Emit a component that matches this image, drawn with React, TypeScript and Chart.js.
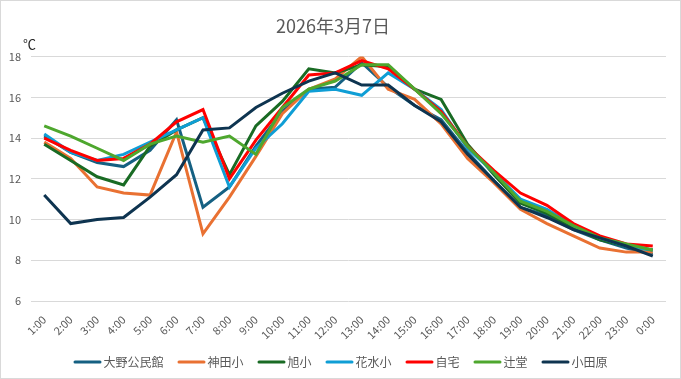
import React, { useEffect, useRef } from "react";
import { Chart, registerables } from "chart.js";

Chart.register(...registerables);

const title = "2026年3月7日";
const unitLabel = "℃";
const hours = [
  "1:00", "2:00", "3:00", "4:00", "5:00", "6:00", "7:00", "8:00", "9:00", "10:00", "11:00", "12:00",
  "13:00", "14:00", "15:00", "16:00", "17:00", "18:00", "19:00", "20:00", "21:00", "22:00", "23:00", "0:00",
];
const seriesNames = ["大野公民館", "神田小", "旭小", "花水小", "自宅", "辻堂", "小田原"];
const seriesColors = ["#156082", "#E97132", "#196B24", "#0F9ED5", "#FF0000", "#4EA72E", "#0E3450"];

const ohno = [14.1, 13.3, 12.8, 12.6, 13.4, 14.9, 10.6, 11.6, 13.6, 15.3, 16.4, 16.5, 17.7, 16.5, 15.6, 14.9, 13.3, 11.9, 10.6, 10.2, 9.5, 9.0, 8.6, 8.3];
const kanda = [13.8, 13.0, 11.6, 11.3, 11.2, 14.3, 9.3, 11.1, 13.1, 15.2, 16.4, 16.9, 18.0, 16.4, 15.9, 14.7, 13.0, 11.8, 10.5, 9.8, 9.2, 8.6, 8.4, 8.4];
const asahi = [13.7, 12.9, 12.1, 11.7, 13.6, 14.4, 15.0, 12.2, 14.6, 15.8, 17.4, 17.2, 17.6, 17.5, 16.4, 15.9, 13.7, 12.2, 10.8, 10.3, 9.6, 9.0, 8.7, 8.5];
const hanamizu = [14.2, 13.3, 12.9, 13.2, 13.8, 14.4, 15.0, 11.6, 13.5, 14.7, 16.3, 16.4, 16.1, 17.2, 16.4, 15.4, 13.5, 12.3, 11.0, 10.5, 9.7, 9.1, 8.7, 8.5];
const jitaku = [14.0, 13.4, 12.9, 13.0, 13.7, 14.8, 15.4, 12.0, 13.9, 15.5, 17.1, 17.2, 17.8, 17.4, 16.4, 15.3, 13.6, 12.4, 11.3, 10.7, 9.8, 9.2, 8.8, 8.7];
const tsujido = [14.6, 14.1, 13.5, 12.9, 13.7, 14.1, 13.8, 14.1, 13.2, 15.5, 16.4, 16.8, 17.6, 17.6, 16.4, 15.2, 13.6, 12.3, 10.9, 10.4, 9.7, 9.1, 8.8, 8.5];
const odawara = [11.2, 9.8, 10.0, 10.1, 11.1, 12.2, 14.4, 14.5, 15.5, 16.2, 16.8, 17.2, 16.6, 16.6, 15.6, 14.8, 13.2, 11.9, 10.6, 10.1, 9.5, 9.1, 8.7, 8.2];

const seriesValues = [ohno, kanda, asahi, hanamizu, jitaku, tsujido, odawara];

const yMin = 6;
const yMax = 18;
const yStep = 2;

const textColor = "#595959";
const gridColor = "#D9D9D9";
const fontFamily = "'Noto Sans CJK JP', 'Noto Sans', sans-serif";

const decorPlugin = {
  id: "decor",
  afterDraw(chart: any) {
    const ctx = chart.ctx;
    ctx.save();
    // outer frame
    ctx.strokeStyle = gridColor;
    ctx.lineWidth = 1;
    ctx.strokeRect(0.5, 0.5, chart.width - 1, chart.height - 1);
    // unit label
    ctx.fillStyle = "#262626";
    ctx.font = `13px ${fontFamily}`;
    ctx.textAlign = "left";
    ctx.textBaseline = "middle";
    ctx.fillText(unitLabel, chart.chartArea.left - 8, chart.chartArea.top - 13);
    // legend
    const lineLen = 28;
    const textGap = 2;
    const itemGap = 14;
    ctx.font = `12px ${fontFamily}`;
    const items = chart.data.datasets.map((ds: any) => ({
      label: ds.label as string,
      color: ds.borderColor as string,
      w: ctx.measureText(ds.label).width,
    }));
    const total = items.reduce((s: number, it: any) => s + lineLen + textGap + it.w, 0) + itemGap * (items.length - 1);
    let x = (chart.width - total) / 2;
    const y = 362;
    ctx.lineCap = "round";
    for (const it of items) {
      ctx.strokeStyle = it.color;
      ctx.lineWidth = 3;
      ctx.beginPath();
      ctx.moveTo(x + 1.5, y);
      ctx.lineTo(x + lineLen - 1.5, y);
      ctx.stroke();
      ctx.fillStyle = textColor;
      ctx.fillText(it.label, x + lineLen + textGap, y);
      x += lineLen + textGap + it.w + itemGap;
    }
    ctx.restore();
  },
};

export default function App() {
  const canvasRef = useRef<HTMLCanvasElement | null>(null);

  useEffect(() => {
    const canvas = canvasRef.current;
    if (!canvas) return;
    const chart = new Chart(canvas, {
      type: "line",
      data: {
        labels: hours,
        datasets: seriesNames.map((name, i) => ({
          label: name,
          data: seriesValues[i],
          borderColor: seriesColors[i],
          backgroundColor: seriesColors[i],
          borderWidth: 3,
          pointRadius: 0,
          tension: 0,
          order: seriesNames.length - i,
        })),
      },
      options: {
        animation: false,
        responsive: false,
        maintainAspectRatio: false,
        layout: { padding: { left: 0, right: 15, top: 0, bottom: 33 } },
        plugins: {
          title: {
            display: true,
            text: title,
            color: textColor,
            font: { family: fontFamily, size: 18, weight: "normal" },
            padding: { top: 15, bottom: 20 },
          },
          legend: { display: false },
          tooltip: { enabled: false },
        },
        scales: {
          x: {
            offset: true,
            grid: { display: false, drawTicks: false },
            border: { display: false },
            ticks: {
              color: textColor,
              font: { family: fontFamily, size: 11 },
              maxRotation: 45,
              minRotation: 45,
              autoSkip: false,
              padding: 12,
            },
            afterFit(scale: any) {
              scale.height = 45;
            },
          },
          y: {
            min: yMin,
            max: yMax,
            grid: { color: gridColor, lineWidth: 1, drawTicks: false },
            border: { display: false },
            ticks: {
              stepSize: yStep,
              color: textColor,
              font: { family: fontFamily, size: 11 },
              padding: 10,
            },
            afterFit(scale: any) {
              scale.width = 31;
            },
          },
        },
      },
      plugins: [decorPlugin],
    });
    return () => chart.destroy();
  }, []);

  return (
    <div style={{ position: "fixed", left: 0, top: 0, width: 681, height: 379, background: "#fff" }}>
      <canvas ref={canvasRef} width={681} height={379} style={{ display: "block", width: 681, height: 379 }} />
    </div>
  );
}
